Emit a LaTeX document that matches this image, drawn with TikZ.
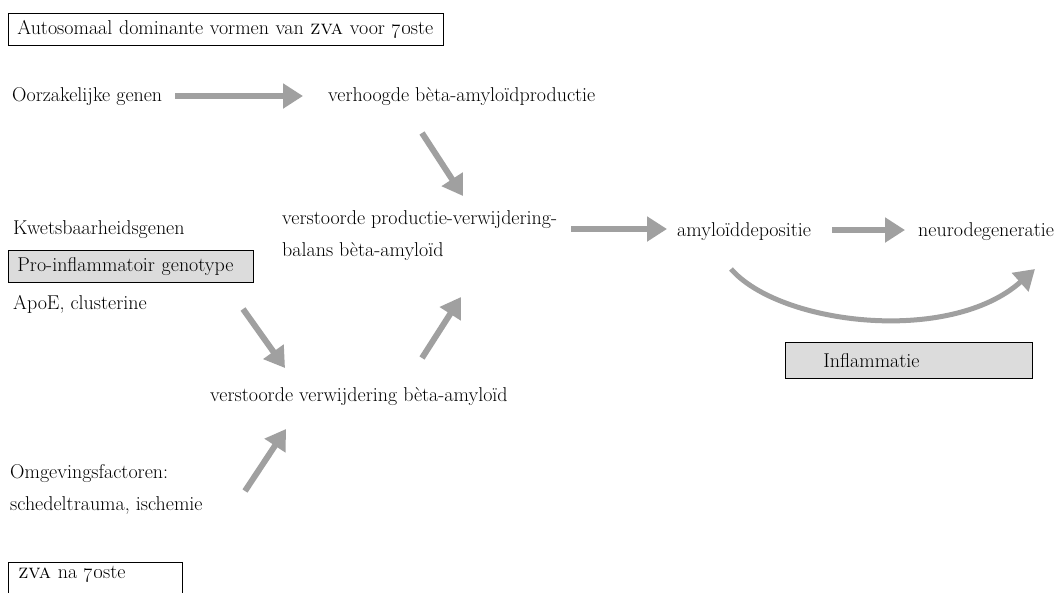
\documentclass[tikz,border=0pt]{standalone}
\usetikzlibrary{arrows.meta}
\definecolor{arrgray}{HTML}{A0A0A0}
\definecolor{boxgray}{HTML}{DCDCDC}
\begin{document}
\begin{tikzpicture}[x=1pt,y=-1pt,
  lbl/.style={anchor=base west,inner sep=0pt,font=\fontsize{20}{32}\selectfont,align=left},
  frame/.style={draw=black,line width=0.8pt,anchor=north west,inner ysep=0pt,inner xsep=0pt,align=left,font=\fontsize{20}{24}\selectfont},
  arr/.style={draw=arrgray,line width=6pt,-{Triangle[width=24pt,length=20pt]}},
]
\useasboundingbox (0,0) rectangle (1059,592);
\clip (0,0) rectangle (1059,592);
\fill[white] (0,0) rectangle (1059,592);

% boxes
\node[frame,minimum width=435pt,minimum height=32pt,text width=417pt] (top) at (8,13) {Autosomaal dominante vormen van \textsc{zva} voor \oldstylenums{70}ste};
\node[frame,fill=boxgray,minimum width=245pt,minimum height=32pt,text width=227pt] (pro) at (8,250) {Pro-inflammatoir genotype};
\node[frame,fill=boxgray,minimum width=247pt,minimum height=36pt,text width=237pt] (infl) at (785,342) {\hspace*{33pt}Inflammatie};
\node[frame,minimum width=174pt,text width=154pt,text depth=34pt,text height=11pt,inner ysep=5pt] (na) at (8,562) {\textsc{zva} na \oldstylenums{70}ste};

% labels
\node[lbl] (oorz) at (12,101) {Oorzakelijke genen};
\node[lbl] (verh) at (328,101) {verhoogde bèta-amyloïdproductie};
\node[lbl] (kwets) at (13,234) {Kwetsbaarheidsgenen};
\node[lbl] (bal) at (282,256) {verstoorde productie-verwijdering-\\balans bèta-amyloïd};
\node[lbl] (apoe) at (13,309) {ApoE, clusterine};
\node[lbl] (amy) at (677,236) {amyloïddepositie};
\node[lbl] (neuro) at (918,236) {neurodegeneratie};
\node[lbl] (verw) at (210,401) {verstoorde verwijdering bèta-amyloïd};
\node[lbl] (omg) at (10,510) {Omgevingsfactoren:\\schedeltrauma, ischemie};

% arrow end points
\coordinate (a1s) at (175,96);  \coordinate (a1e) at (303,96);
\coordinate (a2s) at (422,133); \coordinate (a2e) at (463,196);
\coordinate (a3s) at (243,309); \coordinate (a3e) at (285,368);
\coordinate (a4s) at (422,358); \coordinate (a4e) at (461,297);
\coordinate (a5s) at (245,491); \coordinate (a5e) at (286,429);
\coordinate (a6s) at (571,229); \coordinate (a6e) at (667,229);
\coordinate (a7s) at (832,230); \coordinate (a7e) at (905,230);
\coordinate (a8s) at (731,269); \coordinate (a8e) at (1035,269);

\draw[arr] (a1s) -- (a1e);
\draw[arr] (a2s) -- (a2e);
\draw[arr] (a3s) -- (a3e);
\draw[arr] (a4s) -- (a4e);
\draw[arr] (a5s) -- (a5e);
\draw[arr] (a6s) -- (a6e);
\draw[arr] (a7s) -- (a7e);
\draw[arr,line width=5pt] (a8s) .. controls (780,325) and (950,345) .. (a8e);
\end{tikzpicture}
\end{document}
